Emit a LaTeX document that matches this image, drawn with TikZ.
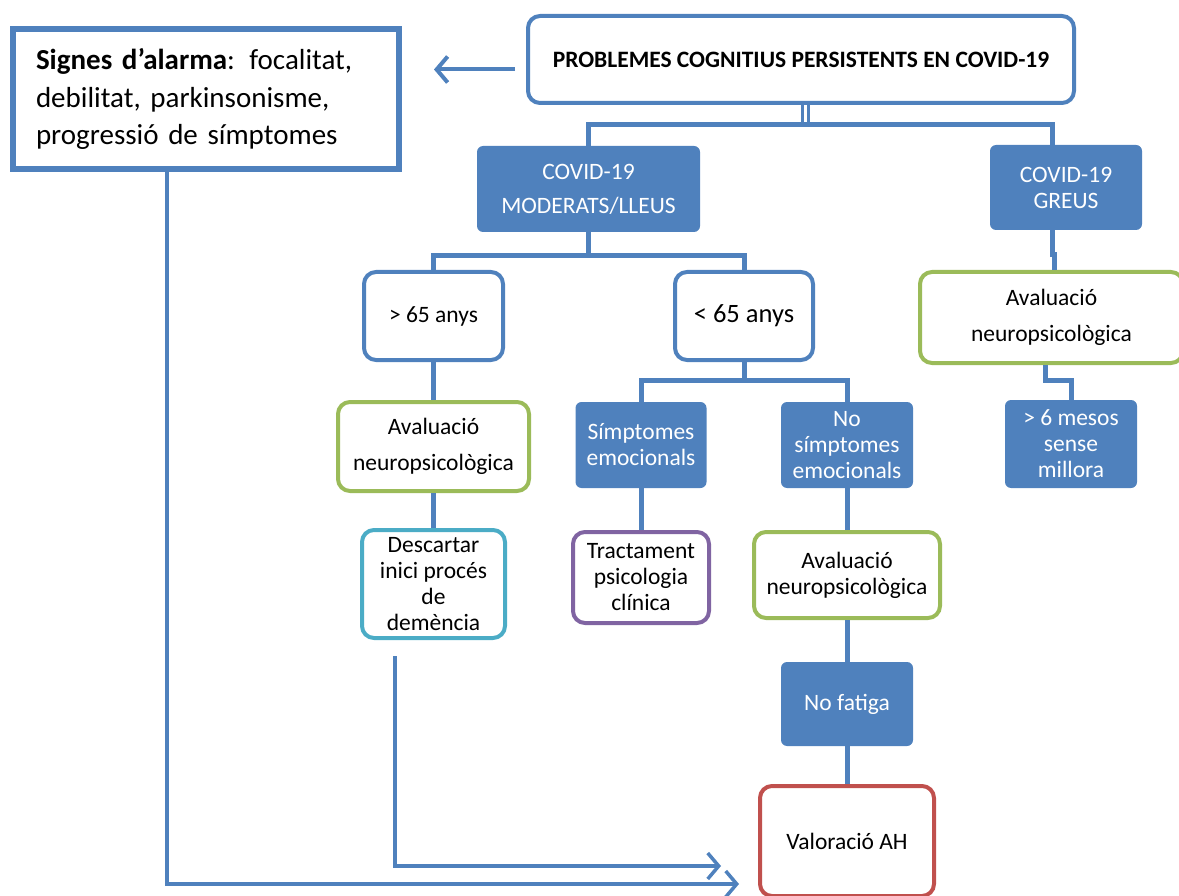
\documentclass[tikz,border=0pt]{standalone}
\usepackage{fontspec}
\setmainfont{Carlito}
\usetikzlibrary{arrows.meta,positioning,calc}
\definecolor{flowblue}{HTML}{4F81BD}
\definecolor{evalgreen}{HTML}{9BBB59}
\definecolor{rulecyan}{HTML}{4BACC6}
\definecolor{therapy}{HTML}{8064A2}
\definecolor{assess}{HTML}{C0504D}
\newcommand{\flowsize}{\fontsize{23.5}{26}\selectfont}
\tikzset{
  outline/.style={draw=#1, line width=4pt, fill=white, rounded corners=12pt,
                  align=center, inner sep=2pt, font=\flowsize},
  outline/.default=flowblue,
  bluebox/.style={fill=flowblue, text=white, rounded corners=6pt, align=center,
                  inner sep=2pt, font=\flowsize},
  link/.style={draw=flowblue, line width=5pt},
  jump/.style={-{Straight Barb[length=11pt,width=26pt]}, draw=flowblue, line width=4pt},
}

\begin{document}
\begin{tikzpicture}[x=1pt, y=-1pt]
    \useasboundingbox (0,0) rectangle (1179,896);

    % root and alarm signs
    \node[outline, minimum width=546pt, minimum height=87pt, font=\flowsize\bfseries] (top) at (801,59.5)
      {PROBLEMES COGNITIUS PERSISTENTS EN COVID-19};
    \node[draw=flowblue, line width=6pt, minimum width=386pt, minimum height=140pt, text width=340pt,
          inner sep=0pt, align=left, font=\fontsize{29}{37.5}\selectfont] (alarm) at (206,99)
      {\textbf{Signes d’alarma}: focalitat,\\debilitat, parkinsonisme,\\progressió de símptomes};

    % severity
    \node[bluebox, minimum width=223pt, minimum height=86pt] (moder) at (588.5,189) {COVID-19\\[8pt]MODERATS/LLEUS};
    \node[bluebox, minimum width=152pt, minimum height=85pt] (greus) at (1066,187.5) {COVID-19\\GREUS};

    % moderate / mild branch
    \node[outline, minimum width=139pt, minimum height=88pt] (old) at (433.5,316) {> 65 anys};
    \node[outline, minimum width=138pt, minimum height=88pt, font=\fontsize{26.5}{30}\selectfont] (young) at (744,316) {< 65 anys};
    \node[outline=evalgreen, minimum width=191pt, minimum height=89pt] (evalold) at (433.5,446.5) {Avaluació\\[10pt]neuropsicològica};
    \node[outline=rulecyan, minimum width=143pt, minimum height=108pt] (rule) at (433.5,584) {Descartar\\inici procés\\de\\demència};
    \node[bluebox, minimum width=131pt, minimum height=86pt] (emo) at (641,445) {Símptomes\\emocionals};
    \node[bluebox, minimum width=132pt, minimum height=86pt] (noemo) at (847,445) {No\\símptomes\\emocionals};
    \node[outline=therapy, minimum width=136pt, minimum height=91pt] (therapy) at (641,577.5) {Tractament\\psicologia\\clínica};
    \node[outline=evalgreen, minimum width=186pt, minimum height=86pt] (evalyoung) at (847,575) {Avaluació\\neuropsicològica};
    \node[bluebox, minimum width=132pt, minimum height=84pt] (fatigue) at (847,704) {No fatiga};
    \node[outline=assess, minimum width=174pt, minimum height=110pt] (ah) at (847,841) {Valoració AH};

    % severe branch
    \node[outline=evalgreen, minimum width=263pt, minimum height=91pt] (evalsev) at (1051.5,317.5) {Avaluació\\[10pt]neuropsicològica};
    \node[bluebox, minimum width=132pt, minimum height=88pt] (months) at (1071,444) {> 6 mesos\\sense\\millora};

    % connectors
    \draw[link, line width=3pt] ([xshift=1pt]top.south) -- ++(0,20);
    \draw[link, line width=3pt] ([xshift=7pt]top.south) -- ++(0,20) coordinate (split);
    \draw[link] (moder.north) |- (split) -| ([xshift=-14pt]greus.north);
    \draw[link] (moder.south) -- ++(0,23) coordinate (msplit);
    \draw[link] (old.north) |- (msplit) -| (young.north);
    \draw[link] (old.south) -- (evalold.north);
    \draw[link] (evalold.south) -- (rule.north);
    \draw[link] (young.south) -- ++(0,18) coordinate (ysplit);
    \draw[link] (emo.north) |- (ysplit) -| (noemo.north);
    \draw[link] (emo.south) -- (therapy.north);
    \draw[link] (noemo.south) -- (evalyoung.north);
    \draw[link] (evalyoung.south) -- (fatigue.north);
    \draw[link] (fatigue.south) -- (ah.north);
    \draw[link] ([xshift=-14pt]greus.south) -- ++(0,24) -| ([xshift=3pt]evalsev.north);
    \draw[link] ([xshift=-6pt]evalsev.south) -- ++(0,15) -| (months.north);

    % arrows
    \draw[jump] ([shift={(-11pt,-10pt)}]top.west) -- ++(-81,0);
    \draw[jump, line width=3.5pt] ([shift={(-38.5pt,-16pt)}]rule.south) |- ([shift={(-37pt,-25pt)}]ah.west);
    \draw[jump, line width=3.5pt] ([xshift=-39pt]alarm.south) |- ([shift={(-19pt,-43pt)}]ah.west);
\end{tikzpicture}
\end{document}
